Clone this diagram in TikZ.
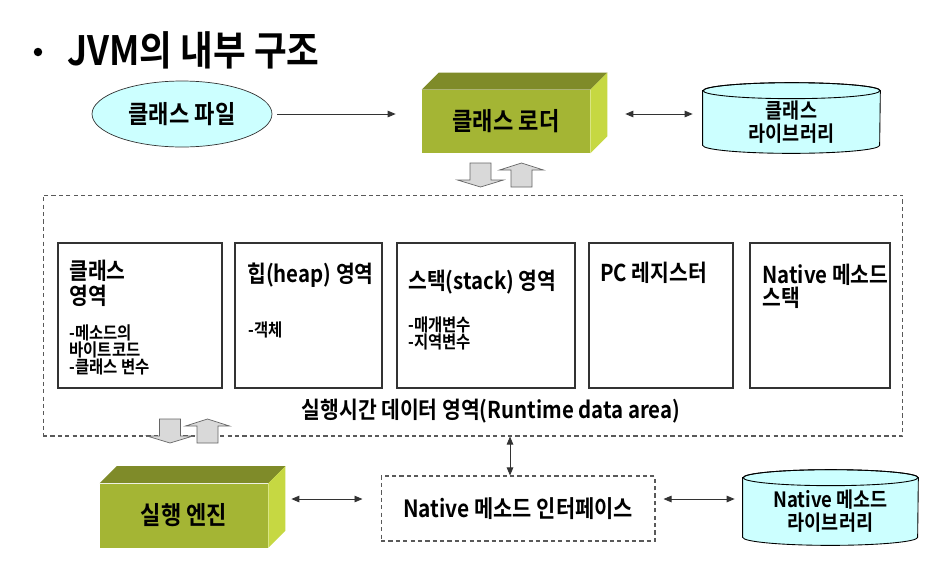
\documentclass[tikz,border=0pt]{standalone}
\usepackage{fontspec}
\setmainfont{Noto Sans CJK KR Bold}[FakeStretch=0.88]
\usetikzlibrary{arrows.meta, positioning, shapes.geometric, backgrounds}
\definecolor{olivefront}{HTML}{A4B534}
\definecolor{olivetop}{HTML}{7F8B29}
\definecolor{oliveside}{HTML}{C6D842}
\definecolor{libcyan}{HTML}{CCFFFF}
\definecolor{arrowgray}{HTML}{D9D9D9}
\definecolor{edgegray}{HTML}{333333}
\tikzset{%
	cube front/.style={
		fill=olivefront,
		minimum width=3.36cm,
		minimum height=1.28cm,
		inner sep=0pt,
		font=\fontsize{14.3}{16}\selectfont
	},
	area box/.style={
		draw=edgegray,
		line width=1.6pt,
		minimum height=2.9cm,
		inner sep=0pt
	},
	area title/.style={
		anchor=west, inner sep=0pt, align=left,
		font=\fontsize{13.2}{14.2}\selectfont
	},
	area note/.style={
		anchor=west, inner sep=0pt, align=left,
		font=\fontsize{10}{9.7}\selectfont
	},
	library/.style={
		minimum width=3.54cm,
		minimum height=1.08cm,
		align=center, inner sep=0pt,
		font=\fontsize{12}{13}\selectfont
	},
	link/.style={-{Triangle[length=1.6mm,width=1.3mm]}, draw=edgegray, line width=0.5pt},
	dbl link/.style={{Triangle[length=1.6mm,width=1.3mm]}-{Triangle[length=1.6mm,width=1.3mm]}, draw=edgegray, line width=0.5pt},
	block down/.pic={
		\filldraw[fill=arrowgray, draw=gray!80!black, line width=0.4pt]
			(-10.5,0) -- (10.5,0) -- (10.5,17) -- (23,17) -- (0,24) -- (-23,17) -- (-10.5,17) -- cycle;
	},
	block up/.pic={
		\filldraw[fill=arrowgray, draw=gray!80!black, line width=0.4pt]
			(-10.5,24) -- (10.5,24) -- (10.5,7) -- (22,7) -- (0,0) -- (-22,7) -- (-10.5,7) -- cycle;
	},
}
% top and side faces of a green block
\newcommand{\cubefaces}[1]{%
	\fill[olivetop] (#1.north west) -- ++(17,-17) -- ([shift={(17,-17)}]#1.north east) -- (#1.north east) -- cycle;
	\fill[oliveside] (#1.north east) -- ++(17,-17) -- ([shift={(17,-17)}]#1.south east) -- (#1.south east) -- cycle;
}
% drum behind a library node (raised a little above its text)
\newcommand{\drum}[2]{%
	\begin{scope}[on background layer]
		\filldraw[fill=libcyan, draw=black, line width=0.5pt] ([yshift=0.08cm]#1.north west) -- ([yshift=0.08cm]#1.south west)
			arc[start angle=180, end angle=360, x radius=#2, y radius=0.16cm] -- ([yshift=0.08cm]#1.north east)
			arc[start angle=0, end angle=180, x radius=#2, y radius=0.16cm] -- cycle;
		\draw[line width=0.5pt] ([yshift=0.08cm]#1.north) ellipse[x radius=#2, y radius=0.16cm];
	\end{scope}
}

\begin{document}
\begin{tikzpicture}[x=0.02cm, y=-0.02cm]
	\begin{scope}[on background layer]
		\fill[white] (0,0) rectangle (949,562);
	\end{scope}
	\useasboundingbox (0,0) rectangle (949,562);

	% Title
	\node[circle, fill=black, inner sep=0pt, minimum size=0.17cm] (bullet) at (38,52) {};
	\node[anchor=west, inner sep=0pt, font=\fontsize{23}{25}\selectfont] (title) at (67,50) {JVM의 내부 구조};

	% Class file, class loader, class library
	\node[ellipse, draw=edgegray, fill=libcyan, minimum width=3.6cm, minimum height=1.32cm,
		font=\fontsize{14.3}{16}\selectfont] (classfile) at (182,114) {클래스 파일};
	\node[cube front, minimum height=1.26cm] (loader) at (506,121.5) {클래스 로더};
	\cubefaces{loader}
	\node[library] (classlib) at (791.5,122) {클래스\\라이브러리};
	\drum{classlib}{1.77cm}

	\draw[link, shorten <=0.1cm, shorten >=0.52cm] (classfile.east) -- (classfile.east -| loader.west);
	\draw[dbl link, shorten <=0.7cm, shorten >=0.2cm] (classfile.east -| loader.east) -- (classfile.east -| classlib.west);

	\pic at (480.5,163) {block down};
	\pic at (521.5,163) {block up};

	% Runtime data area
	\node[draw=gray!70!black, dash pattern=on 2.4pt off 1.8pt, line width=0.6pt,
		minimum width=17.2cm, minimum height=4.82cm] (runtime) at (473,315.5) {};

	\node[area box, minimum width=3.28cm] (classarea) at (140,315.5) {};
	\node[area box, minimum width=2.94cm] (heaparea) at (308.5,315.5) {};
	\node[area box, minimum width=3.56cm] (stackarea) at (486,315.5) {};
	\node[area box, minimum width=2.88cm] (pcreg) at (661,315.5) {};
	\node[area box, minimum width=2.8cm] (nativestack) at (820,315.5) {};

	\node[area title] (classtitle) at (69,283.5) {클래스\\영역};
	\node[area note] (classnote) at (69,350) {-메소드의\\바이트코드\\-클래스 변수};
	\node[area title] (heaptitle) at (247,275) {힙(heap) 영역};
	\node[area note] (heapnote) at (248,330) {-객체};
	\node[area title] (stacktitle) at (408,282) {스택(stack) 영역};
	\node[area note] (stacknote) at (408,333.5) {-매개변수\\-지역변수};
	\node[area title] (pctitle) at (600,273) {PC 레지스터};
	\node[area title, font=\fontsize{13.2}{13}\selectfont] (nstacktitle) at (762,286.5) {Native 메소드\\스택};

	\node[font=\fontsize{13.2}{15}\selectfont] (runtimelabel) at (491,411) {실행시간 데이터 영역(Runtime data area)};

	\pic at (170,419) {block down};
	\pic at (207.5,419) {block up};

	% Execution engine, native interface, native library
	\node[cube front] (engine) at (184,515.5) {실행 엔진};
	\cubefaces{engine}
	\node[draw=gray!70!black, dash pattern=on 2.4pt off 1.8pt, line width=0.6pt,
		minimum width=5.48cm, minimum height=1.3cm, font=\fontsize{13.5}{15}\selectfont] (nif) at (518,508.5) {Native 메소드 인터페이스};
	\node[library, minimum width=3.5cm, minimum height=1.18cm] (nativelib) at (830.5,511.5) {Native 메소드\\라이브러리};
	\drum{nativelib}{1.75cm}

	\coordinate (engmid) at ([yshift=0.33cm]engine.east);
	\coordinate (nifup) at ([xshift=-0.16cm]nif.north);
	\draw[dbl link, shorten <=0.46cm, shorten >=0.36cm] (engmid) -- (engmid -| nif.west);
	\draw[dbl link, shorten <=0.16cm, shorten >=0.16cm] (engmid -| nif.east) -- (engmid -| nativelib.west);
	\draw[dbl link] (nifup) -- (nifup |- runtime.south);
\end{tikzpicture}
\end{document}
